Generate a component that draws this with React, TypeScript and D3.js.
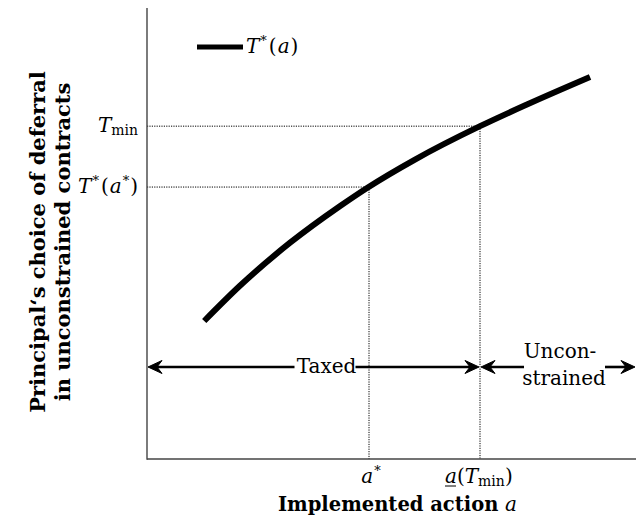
import React from "react";
import * as d3 from "d3";

// Curve T*(a): implemented action (x) vs principal's deferral choice (y), in axis units 0..100
const actionX = [11.7, 19.0, 29.2, 39.5, 45.0, 54.8, 68.1, 77.7, 90.6];
const deferralY = [30.6, 38.4, 47.9, 56.1, 60.1, 66.4, 73.8, 78.6, 84.7];
// Guide values
const aStar = 45.4;
const tStar = 60.3;
const aTmin = 68.1;
const tMin = 73.8;
// Region bands along the action axis
const regionNames = ["Taxed", "Uncon-|strained"];
const regionBounds = [0, aTmin, 100];

const W = 636;
const H = 517;
const serif = "'DejaVu Serif', 'Liberation Serif', serif";
const mathFont = "'DejaVu Serif', 'Liberation Serif', serif";

function Arrow({ x, y, dir }: { x: number; y: number; dir: number }) {
  const d = `M${x},${y} L${x - dir * 14},${y - 6.5} L${x - dir * 9},${y} L${x - dir * 14},${y + 6.5} Z`;
  return <path d={d} fill="#000" stroke="#000" strokeWidth={1} strokeLinejoin="round" />;
}

export default function App() {
  const x = d3.scaleLinear().domain([0, 100]).range([147, 636]);
  const y = d3.scaleLinear().domain([0, 100]).range([459, 8]);
  const pts: [number, number][] = actionX.map((a, i) => [a, deferralY[i]]);
  const line = d3
    .line<[number, number]>()
    .x((d) => x(d[0]))
    .y((d) => y(d[1]))
    .curve(d3.curveMonotoneX);

  const arrowY = y(20.4);
  const x0 = x(regionBounds[0]);
  const x1 = x(regionBounds[1]);
  const x2 = x(regionBounds[2]);
  const taxedMid = (x0 + x1) / 2 + 13;
  const uncMid = x1 + 84;

  return (
    <svg
      width={W}
      height={H}
      style={{ position: "absolute", left: 0, top: 0, background: "#fff" }}
    >
      {/* guide lines */}
      <g stroke="#000" strokeWidth={1} strokeDasharray="1.2,1.2" fill="none">
        <line x1={x(0)} x2={x(aStar)} y1={y(tStar)} y2={y(tStar)} />
        <line x1={x(0)} x2={x(aTmin)} y1={y(tMin)} y2={y(tMin)} />
        <line x1={x(aStar)} x2={x(aStar)} y1={y(tStar)} y2={y(0)} />
        <line x1={x(aTmin)} x2={x(aTmin)} y1={y(tMin)} y2={y(0)} />
      </g>

      {/* axes */}
      <g stroke="#444" strokeWidth={1.4}>
        <line x1={x(0)} x2={x(0)} y1={y(100)} y2={y(0) + 0.7} />
        <line x1={x(0)} x2={x(100)} y1={y(0)} y2={y(0)} />
      </g>

      {/* curve */}
      <path d={line(pts) || ""} fill="none" stroke="#000" strokeWidth={6} />

      {/* region arrows */}
      <g stroke="#000" strokeWidth={2.6}>
        <line x1={x0 + 4} x2={taxedMid - 32} y1={arrowY} y2={arrowY} />
        <line x1={taxedMid + 29} x2={x1 - 6} y1={arrowY} y2={arrowY} />
        <line x1={x1 + 6} x2={uncMid - 40} y1={arrowY} y2={arrowY} />
        <line x1={uncMid + 41} x2={x2 - 6} y1={arrowY} y2={arrowY} />
      </g>
      <Arrow x={x0 + 1} y={arrowY} dir={-1} />
      <Arrow x={x1 - 1} y={arrowY} dir={1} />
      <Arrow x={x1 + 1} y={arrowY} dir={-1} />
      <Arrow x={x2 - 1} y={arrowY} dir={1} />
      <text x={taxedMid} y={arrowY + 6} textAnchor="middle" fontFamily={serif} fontSize={20}>
        {regionNames[0]}
      </text>
      <text x={uncMid - 4} y={arrowY - 9} textAnchor="middle" fontFamily={serif} fontSize={20}>
        {regionNames[1].split("|")[0]}
      </text>
      <text x={uncMid} y={arrowY + 18} textAnchor="middle" fontFamily={serif} fontSize={20}>
        {regionNames[1].split("|")[1]}
      </text>

      {/* legend */}
      <line x1={197} x2={243} y1={47} y2={47} stroke="#000" strokeWidth={5} />
      <text x={246} y={53} fontFamily={mathFont} fontSize={20}>
        <tspan fontStyle="italic">T</tspan>
        <tspan fontSize={13} dy={-8} dx={1}>*</tspan>
        <tspan dy={8} dx={2}>(</tspan>
        <tspan fontStyle="italic" dx={1}>a</tspan>
        <tspan dx={1}>)</tspan>
      </text>

      {/* y tick labels */}
      <text x={x(0) - 9} y={y(tMin) + 6} textAnchor="end" fontFamily={mathFont} fontSize={20}>
        <tspan fontStyle="italic">T</tspan>
        <tspan fontSize={14} dy={3}>min</tspan>
      </text>
      <text x={x(0) - 9} y={y(tStar) + 6} textAnchor="end" fontFamily={mathFont} fontSize={20}>
        <tspan fontStyle="italic">T</tspan>
        <tspan fontSize={13} dy={-8} dx={1}>*</tspan>
        <tspan dy={8} dx={2}>(</tspan>
        <tspan fontStyle="italic" dx={1}>a</tspan>
        <tspan fontSize={13} dy={-8} dx={1}>*</tspan>
        <tspan dy={8} dx={1}>)</tspan>
      </text>

      {/* x tick labels */}
      <text x={x(aStar) + 2} y={y(0) + 24} textAnchor="middle" fontFamily={mathFont} fontSize={20}>
        <tspan fontStyle="italic">a</tspan>
        <tspan fontSize={13} dy={-8} dx={1}>*</tspan>
      </text>
      <text x={x(aTmin) - 35} y={y(0) + 24} fontFamily={mathFont} fontSize={20}>
        <tspan fontStyle="italic">a</tspan>
        <tspan>(</tspan>
        <tspan fontStyle="italic">T</tspan>
        <tspan fontSize={14} dy={3}>min</tspan>
        <tspan dy={-3}>)</tspan>
      </text>
      <line
        x1={x(aTmin) - 35}
        x2={x(aTmin) - 24}
        y1={y(0) + 27}
        y2={y(0) + 27}
        stroke="#000"
        strokeWidth={1}
      />

      {/* axis titles */}
      <text
        x={(x(0) + x(100)) / 2 + 6}
        y={511}
        textAnchor="middle"
        fontFamily={serif}
        fontWeight="bold"
        fontSize={19.5}
      >
        Implemented action <tspan fontStyle="italic" fontWeight="normal" fontFamily={mathFont} fontSize={20}>a</tspan>
      </text>
      <g transform={`translate(45,242) rotate(-90)`}>
        <text x={0} y={0} textAnchor="middle" fontFamily={serif} fontWeight="bold" fontSize={21}>
          Principal‘s choice of deferral
        </text>
        <text x={0} y={25} textAnchor="middle" fontFamily={serif} fontWeight="bold" fontSize={21}>
          in unconstrained contracts
        </text>
      </g>
    </svg>
  );
}
